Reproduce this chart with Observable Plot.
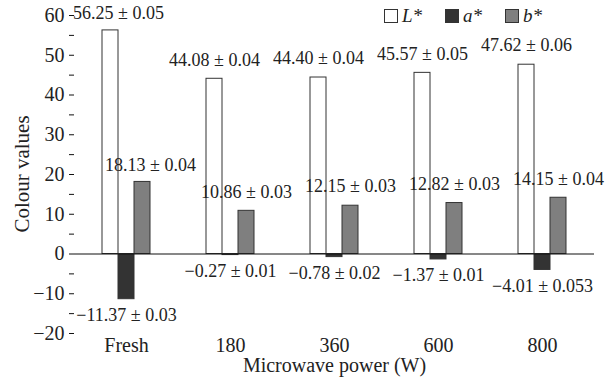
<!DOCTYPE html>
<html><head><meta charset="utf-8">
<script src="https://cdn.jsdelivr.net/npm/d3@7"></script>
<script src="https://cdn.jsdelivr.net/npm/@observablehq/plot@0.6"></script>
<style>
body{margin:0;background:#fff;}
#wrap{position:relative;width:614px;height:385px;font-family:"Liberation Serif",serif;color:#222;}
#legend{position:absolute;left:384px;top:5px;display:flex;font-size:19px;font-style:italic;line-height:22px;}
#legend .item{display:flex;align-items:center;margin-right:23px;}
#legend .sw{width:12px;height:12px;border:1px solid #333;margin-right:4px;box-sizing:content-box;}
#ytitle{position:absolute;left:22px;top:174px;transform:translate(-50%,-50%) rotate(-90deg);font-size:21px;white-space:nowrap;line-height:1;}
</style></head>
<body><div id="wrap"><div id="chart"></div><div id="ytitle"></div><div id="legend"></div></div>
<script>
const categories = ["Fresh", "180", "360", "600", "800"];
const series = ["L*", "a*", "b*"];
const colours = ["#ffffff", "#333333", "#7f7f7f"];
const Lvalues = [56.25, 44.08, 44.40, 45.57, 47.62];
const Lerrors = ["0.05", "0.04", "0.04", "0.05", "0.06"];
const aValues = [-11.37, -0.27, -0.78, -1.37, -4.01];
const aErrors = ["0.03", "0.01", "0.02", "0.01", "0.053"];
const bValues = [18.13, 10.86, 12.15, 12.82, 14.15];
const bErrors = ["0.04", "0.03", "0.03", "0.03", "0.04"];
const yMajorTicks = [-20, -10, 0, 10, 20, 30, 40, 50, 60];
const yMinorTicks = [-15, -5, 5, 15, 25, 35, 45, 55];
const xTitle = "Microwave power (W)";
const yTitle = "Colour values";

const fmt = v => (v < 0 ? "\u2212" : "") + Math.abs(v).toFixed(2);
const data = [];
categories.forEach((c, i) => {
  data.push({category: c, series: "L*", value: Lvalues[i], label: fmt(Lvalues[i]) + " \u00b1 " + Lerrors[i]});
  data.push({category: c, series: "a*", value: aValues[i], label: fmt(aValues[i]) + " \u00b1 " + aErrors[i]});
  data.push({category: c, series: "b*", value: bValues[i], label: fmt(bValues[i]) + " \u00b1 " + bErrors[i]});
});
const up = data.filter(d => d.value >= 0);
const down = data.filter(d => d.value < 0);

// decorations: category boundary ticks on the zero line and the y axis line
const decorations = Plot.text(categories, {
  fx: d => d,
  text: () => "",
  render: (index, scales) => {
    const g = d3.create("svg:g").attr("stroke", "#111").attr("stroke-width", 1.2);
    const [x0, x1] = scales.x.range();
    const y0 = scales.y(0);
    for (const i of index) {
      g.append("line").attr("x1", x1).attr("x2", x1).attr("y1", y0).attr("y2", y0 + 5);
      if (i === 0) {
        g.append("line").attr("x1", x0).attr("x2", x0)
          .attr("y1", scales.y(yMajorTicks[yMajorTicks.length - 1])).attr("y2", scales.y(yMajorTicks[0]));
      }
    }
    return g.node();
  }
});

const chart = Plot.plot({
  width: 614,
  height: 385,
  marginLeft: 72,
  marginRight: 18,
  marginTop: 15,
  marginBottom: 52,
  style: {fontFamily: "Liberation Serif, serif", fontSize: "19px", color: "#222", background: "#fff"},
  fx: {domain: categories, padding: 0, axis: null},
  x: {domain: series, paddingInner: 0, paddingOuter: 1.58, axis: null},
  y: {domain: [-20, 60], axis: null},
  color: {domain: series, range: colours},
  marks: [
    Plot.barY(data, {fx: "category", x: "series", y: "value", fill: "series", stroke: "#333", strokeWidth: 1}),
    Plot.ruleY([0], {stroke: "#111", strokeWidth: 1.2}),
    decorations,
    Plot.text(up.filter(d => d.category !== categories[0]), {fx: "category", x: "series", y: "value", text: "label", dy: -19, fontSize: 18, fill: "#222"}),
    Plot.text(up.filter(d => d.category === categories[0]), {fx: "category", x: "series", y: "value", text: "label", dy: -17, dx: 8, fontSize: 18, fill: "#222"}),
    Plot.text(down, {fx: "category", x: "series", y: "value", text: "label", dy: 16, fontSize: 18, fill: "#222"}),
    Plot.axisY({ticks: yMajorTicks, tickSize: 5, tickPadding: 5, fontSize: 20, label: null, stroke: "#111"}),
    Plot.axisY({ticks: yMinorTicks, tickSize: 5, tickFormat: () => "", label: null, stroke: "#111"}),
    Plot.axisFx({anchor: "bottom", tickSize: 0, tickPadding: 4, fontSize: 20, label: null}),
    Plot.text([xTitle], {text: d => d, frameAnchor: "bottom", textAnchor: "middle", dy: 38, fontSize: 20, facet: "super", fill: "#222"})
  ]
});
document.getElementById("chart").append(chart);
document.getElementById("ytitle").textContent = yTitle;

const legend = document.getElementById("legend");
series.forEach((s, i) => {
  const item = document.createElement("div");
  item.className = "item";
  const sw = document.createElement("span");
  sw.className = "sw";
  sw.style.background = colours[i];
  item.append(sw, document.createTextNode(s));
  legend.append(item);
});
</script>
</body></html>
